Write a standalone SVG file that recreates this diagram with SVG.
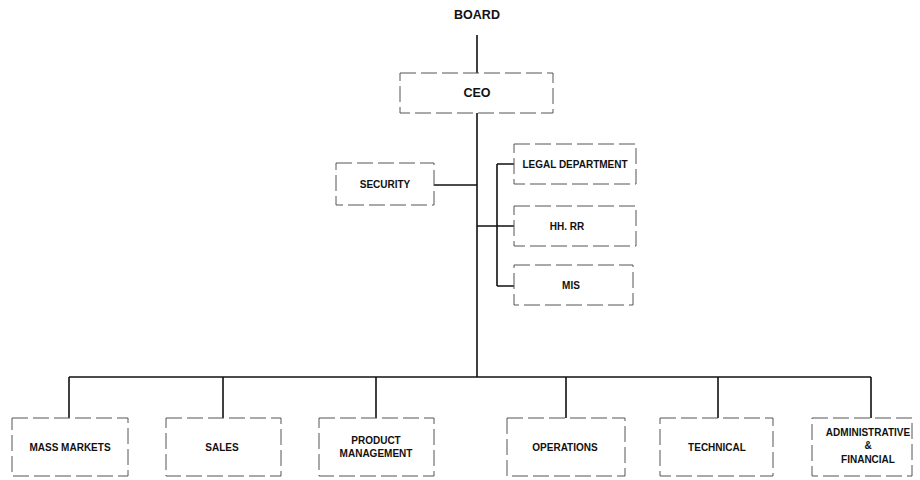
<svg xmlns="http://www.w3.org/2000/svg" width="920" height="480" viewBox="0 0 920 480">
<style>
.box{fill:#fff;stroke:#555;stroke-width:1;stroke-dasharray:16 5}
.t{font-family:"Liberation Sans",Arial,sans-serif;font-weight:bold;font-size:10px;fill:#111;text-anchor:middle}
.big{font-size:12.5px}
.ln{fill:none;stroke:#111;stroke-width:1.6}
</style>
<rect width="920" height="480" fill="#fff"/>
<g id="connectors">
<path class="ln" d="M477 35V377"/>
<path class="ln" d="M434 185H477"/>
<path class="ln" d="M477 226H497M497 164V286M497 164H514M497 226H514M497 286H514"/>
<path class="ln" d="M69 377H871"/>
<path class="ln" d="M69 377V418M223 377V418M376 377V418M566 377V418M718 377V418M871 377V418"/>
</g>
<g id="board"><text class="t big" x="477" y="19">BOARD</text></g>
<g id="ceo"><rect class="box" x="400" y="73" width="153" height="40"/><text class="t big" x="477" y="97">CEO</text></g>
<g id="security"><rect class="box" x="336" y="163" width="98" height="42"/><text class="t" x="385" y="188">SECURITY</text></g>
<g id="legal"><rect class="box" x="514" y="144" width="122" height="40"/><text class="t" x="575" y="168">LEGAL DEPARTMENT</text></g>
<g id="hhrr"><rect class="box" x="514" y="206" width="122" height="40"/><text class="t" x="567" y="230">HH. RR</text></g>
<g id="mis"><rect class="box" x="514" y="265" width="119" height="40"/><text class="t" x="571" y="289">MIS</text></g>
<g id="mass"><rect class="box" x="12" y="418" width="116" height="58"/><text class="t" x="70" y="451">MASS MARKETS</text></g>
<g id="sales"><rect class="box" x="166" y="418" width="115" height="58"/><text class="t" x="222" y="451">SALES</text></g>
<g id="product"><rect class="box" x="319" y="418" width="115" height="58"/><text class="t" x="376" y="444">PRODUCT</text><text class="t" x="376" y="457">MANAGEMENT</text></g>
<g id="operations"><rect class="box" x="507" y="418" width="118" height="58"/><text class="t" x="565" y="451">OPERATIONS</text></g>
<g id="technical"><rect class="box" x="660" y="418" width="113" height="58"/><text class="t" x="717" y="451">TECHNICAL</text></g>
<g id="admin"><rect class="box" x="812" y="418" width="100" height="58"/><text class="t" x="868" y="436">ADMINISTRATIVE</text><text class="t" x="868" y="449">&amp;</text><text class="t" x="868" y="463">FINANCIAL</text></g>
</svg>
